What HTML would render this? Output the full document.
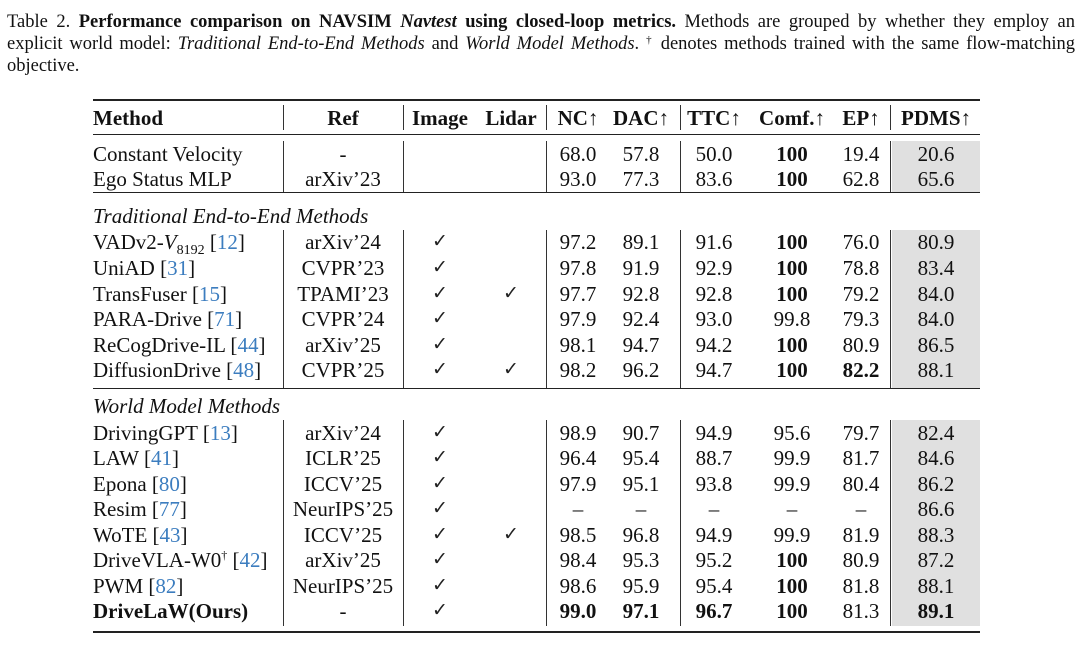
<!DOCTYPE html>
<html><head><meta charset="utf-8"><style>
body{margin:0;width:1080px;height:645px;background:#fff;position:relative;overflow:hidden;font-family:"Liberation Serif",serif;color:#111}
.cl{position:absolute;left:7px;width:1068px;height:22px;font-size:18.5px;line-height:22px;white-space:nowrap;text-align:justify;text-align-last:justify}
.cl sup{font-size:11px;line-height:0;vertical-align:6px}
.r{position:absolute;left:0;width:1080px;height:26px;font-size:21px;line-height:26px}
.r span{position:absolute;top:0;text-align:center;white-space:nowrap}
.m{left:93px;text-align:left!important}
.ref{left:286px;width:114px}.img{left:408px;width:64px}.lid{left:478px;width:66px}
.nc{left:548px;width:60px}.dac{left:608px;width:66px}.ttc{left:683px;width:62px}
.cf{left:752px;width:80px}.ep{left:834px;width:54px}.pd{left:892px;width:88px}
.h{font-weight:bold}
.it{font-style:italic}
a{color:#3c7dbf;text-decoration:none}
b{font-weight:bold}
.ck{font-size:19px;color:#222}
.hl{position:absolute;left:93px;width:887px;background:#222}
.vl{position:absolute;width:1px;background:#333}
.sh{position:absolute;left:892px;width:88px;background:#e0e0e0}
</style></head><body>
<div class="cl" style="top:11px">Table 2. <b>Performance comparison on NAVSIM <i>Navtest</i> using closed-loop metrics.</b> Methods are grouped by whether they employ an</div>
<div class="cl" style="top:33px">explicit world model: <i>Traditional End-to-End Methods</i> and <i>World Model Methods</i>. <sup>†</sup> denotes methods trained with the same flow-matching</div>
<div class="cl" style="top:55px;text-align-last:left">objective.</div>

<div class="hl" style="top:99px;height:2px"></div>
<div class="hl" style="top:134px;height:1px"></div>
<div class="hl" style="top:192px;height:1px"></div>
<div class="hl" style="top:388px;height:1px"></div>
<div class="hl" style="top:631px;height:2px"></div>

<div class="sh" style="top:141px;height:51px"></div>
<div class="sh" style="top:230px;height:158px"></div>
<div class="sh" style="top:420px;height:206px"></div>

<div class="vl" style="left:283px;top:105px;height:25px"></div>
<div class="vl" style="left:403px;top:105px;height:25px"></div>
<div class="vl" style="left:546px;top:105px;height:25px"></div>
<div class="vl" style="left:680px;top:105px;height:25px"></div>
<div class="vl" style="left:890px;top:105px;height:25px"></div>

<div class="vl" style="left:283px;top:141px;height:51px"></div>
<div class="vl" style="left:403px;top:141px;height:51px"></div>
<div class="vl" style="left:546px;top:141px;height:51px"></div>
<div class="vl" style="left:680px;top:141px;height:51px"></div>
<div class="vl" style="left:890px;top:141px;height:51px"></div>

<div class="vl" style="left:283px;top:230px;height:158px"></div>
<div class="vl" style="left:403px;top:230px;height:158px"></div>
<div class="vl" style="left:546px;top:230px;height:158px"></div>
<div class="vl" style="left:680px;top:230px;height:158px"></div>
<div class="vl" style="left:890px;top:230px;height:158px"></div>

<div class="vl" style="left:283px;top:420px;height:206px"></div>
<div class="vl" style="left:403px;top:420px;height:206px"></div>
<div class="vl" style="left:546px;top:420px;height:206px"></div>
<div class="vl" style="left:680px;top:420px;height:206px"></div>
<div class="vl" style="left:890px;top:420px;height:206px"></div>

<div class="r h" style="top:105px"><span class="m">Method</span><span class="ref">Ref</span><span class="img">Image</span><span class="lid">Lidar</span><span class="nc">NC↑</span><span class="dac">DAC↑</span><span class="ttc">TTC↑</span><span class="cf">Comf.↑</span><span class="ep">EP↑</span><span class="pd">PDMS↑</span></div>

<div class="r" style="top:141px"><span class="m">Constant Velocity</span><span class="ref">-</span><span class="nc">68.0</span><span class="dac">57.8</span><span class="ttc">50.0</span><span class="cf"><b>100</b></span><span class="ep">19.4</span><span class="pd">20.6</span></div>
<div class="r" style="top:166px"><span class="m">Ego Status MLP</span><span class="ref">arXiv’23</span><span class="nc">93.0</span><span class="dac">77.3</span><span class="ttc">83.6</span><span class="cf"><b>100</b></span><span class="ep">62.8</span><span class="pd">65.6</span></div>

<div class="r it" style="top:203px"><span class="m">Traditional End-to-End Methods</span></div>
<div class="r" style="top:229px"><span class="m">VADv2-<i>V</i><sub style="font-size:14px">8192</sub> [<a>12</a>]</span><span class="ref">arXiv’24</span><span class="img ck">✓</span><span class="nc">97.2</span><span class="dac">89.1</span><span class="ttc">91.6</span><span class="cf"><b>100</b></span><span class="ep">76.0</span><span class="pd">80.9</span></div>
<div class="r" style="top:255px"><span class="m">UniAD [<a>31</a>]</span><span class="ref">CVPR’23</span><span class="img ck">✓</span><span class="nc">97.8</span><span class="dac">91.9</span><span class="ttc">92.9</span><span class="cf"><b>100</b></span><span class="ep">78.8</span><span class="pd">83.4</span></div>
<div class="r" style="top:281px"><span class="m">TransFuser [<a>15</a>]</span><span class="ref">TPAMI’23</span><span class="img ck">✓</span><span class="lid ck">✓</span><span class="nc">97.7</span><span class="dac">92.8</span><span class="ttc">92.8</span><span class="cf"><b>100</b></span><span class="ep">79.2</span><span class="pd">84.0</span></div>
<div class="r" style="top:306px"><span class="m">PARA-Drive [<a>71</a>]</span><span class="ref">CVPR’24</span><span class="img ck">✓</span><span class="nc">97.9</span><span class="dac">92.4</span><span class="ttc">93.0</span><span class="cf">99.8</span><span class="ep">79.3</span><span class="pd">84.0</span></div>
<div class="r" style="top:332px"><span class="m">ReCogDrive-IL [<a>44</a>]</span><span class="ref">arXiv’25</span><span class="img ck">✓</span><span class="nc">98.1</span><span class="dac">94.7</span><span class="ttc">94.2</span><span class="cf"><b>100</b></span><span class="ep">80.9</span><span class="pd">86.5</span></div>
<div class="r" style="top:357px"><span class="m">DiffusionDrive [<a>48</a>]</span><span class="ref">CVPR’25</span><span class="img ck">✓</span><span class="lid ck">✓</span><span class="nc">98.2</span><span class="dac">96.2</span><span class="ttc">94.7</span><span class="cf"><b>100</b></span><span class="ep"><b>82.2</b></span><span class="pd">88.1</span></div>

<div class="r it" style="top:393px"><span class="m">World Model Methods</span></div>
<div class="r" style="top:420px"><span class="m">DrivingGPT [<a>13</a>]</span><span class="ref">arXiv’24</span><span class="img ck">✓</span><span class="nc">98.9</span><span class="dac">90.7</span><span class="ttc">94.9</span><span class="cf">95.6</span><span class="ep">79.7</span><span class="pd">82.4</span></div>
<div class="r" style="top:445px"><span class="m">LAW [<a>41</a>]</span><span class="ref">ICLR’25</span><span class="img ck">✓</span><span class="nc">96.4</span><span class="dac">95.4</span><span class="ttc">88.7</span><span class="cf">99.9</span><span class="ep">81.7</span><span class="pd">84.6</span></div>
<div class="r" style="top:471px"><span class="m">Epona [<a>80</a>]</span><span class="ref">ICCV’25</span><span class="img ck">✓</span><span class="nc">97.9</span><span class="dac">95.1</span><span class="ttc">93.8</span><span class="cf">99.9</span><span class="ep">80.4</span><span class="pd">86.2</span></div>
<div class="r" style="top:496px"><span class="m">Resim [<a>77</a>]</span><span class="ref">NeurIPS’25</span><span class="img ck">✓</span><span class="nc">–</span><span class="dac">–</span><span class="ttc">–</span><span class="cf">–</span><span class="ep">–</span><span class="pd">86.6</span></div>
<div class="r" style="top:522px"><span class="m">WoTE [<a>43</a>]</span><span class="ref">ICCV’25</span><span class="img ck">✓</span><span class="lid ck">✓</span><span class="nc">98.5</span><span class="dac">96.8</span><span class="ttc">94.9</span><span class="cf">99.9</span><span class="ep">81.9</span><span class="pd">88.3</span></div>
<div class="r" style="top:547px"><span class="m">DriveVLA-W0<sup style="font-size:12px;line-height:0">†</sup> [<a>42</a>]</span><span class="ref">arXiv’25</span><span class="img ck">✓</span><span class="nc">98.4</span><span class="dac">95.3</span><span class="ttc">95.2</span><span class="cf"><b>100</b></span><span class="ep">80.9</span><span class="pd">87.2</span></div>
<div class="r" style="top:573px"><span class="m">PWM [<a>82</a>]</span><span class="ref">NeurIPS’25</span><span class="img ck">✓</span><span class="nc">98.6</span><span class="dac">95.9</span><span class="ttc">95.4</span><span class="cf"><b>100</b></span><span class="ep">81.8</span><span class="pd">88.1</span></div>
<div class="r" style="top:598px"><span class="m"><b>DriveLaW(Ours)</b></span><span class="ref">-</span><span class="img ck">✓</span><span class="nc"><b>99.0</b></span><span class="dac"><b>97.1</b></span><span class="ttc"><b>96.7</b></span><span class="cf"><b>100</b></span><span class="ep">81.3</span><span class="pd"><b>89.1</b></span></div>
</body></html>
